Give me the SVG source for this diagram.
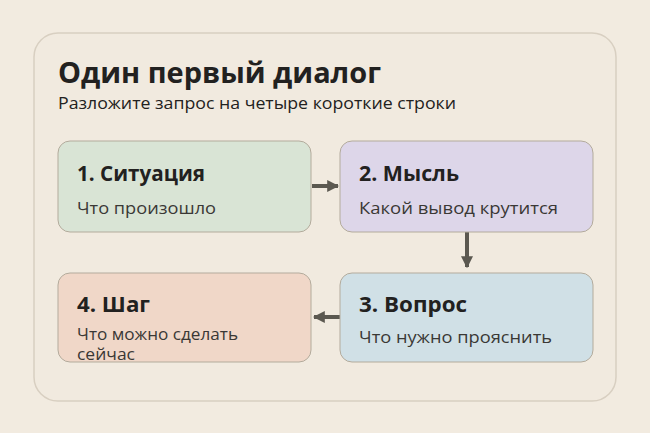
<svg xmlns="http://www.w3.org/2000/svg" width="650" height="433" viewBox="0 0 650 433">
<style>
.t{font-family:"Open Sans","Noto Sans",sans-serif;fill:#222120}
.h{font-weight:700;font-size:20.5px}
.s{font-size:15.5px;fill:#3a3835}
.box{stroke:#b3ab9c;stroke-width:1}
.ar{stroke:#5b5850;stroke-width:4;fill:none}
</style>
<defs>
<marker id="ah" viewBox="0 0 10 10" refX="9" refY="5" markerWidth="3" markerHeight="3" orient="auto" markerUnits="strokeWidth">
<path d="M0,0 L10,5 L0,10 z" fill="#5b5850"/>
</marker>
</defs>
<rect width="650" height="433" fill="#f2ebe0"/>
<rect x="34" y="33" width="582" height="368" rx="24" fill="#f1eadf" stroke="#d8cfc1" stroke-width="1.5"/>
<text class="t" x="58" y="83" font-size="29" font-weight="700" textLength="323" lengthAdjust="spacingAndGlyphs">Один первый диалог</text>
<text class="t" x="58" y="109" font-size="16" font-weight="500" textLength="398" lengthAdjust="spacingAndGlyphs">Разложите запрос на четыре короткие строки</text>
<g id="connectors">
<line class="ar" x1="312" y1="186" x2="338" y2="186" marker-end="url(#ah)"/>
<line class="ar" x1="467" y1="232" x2="467" y2="267" marker-end="url(#ah)"/>
<line class="ar" x1="340" y1="317" x2="314" y2="317" marker-end="url(#ah)"/>
</g>
<g id="n1">
<rect class="box" x="58" y="141" width="253" height="91" rx="12" fill="#d9e4d5"/>
<text class="t h" x="77" y="181" textLength="128" lengthAdjust="spacingAndGlyphs">1. Ситуация</text>
<text class="t s" x="77" y="214" textLength="139" lengthAdjust="spacingAndGlyphs">Что произошло</text>
</g>
<g id="n2">
<rect class="box" x="340" y="141" width="253" height="91" rx="12" fill="#ddd6e9"/>
<text class="t h" x="359" y="181" textLength="100" lengthAdjust="spacingAndGlyphs">2. Мысль</text>
<text class="t s" x="359" y="214" textLength="199" lengthAdjust="spacingAndGlyphs">Какой вывод крутится</text>
</g>
<g id="n3">
<rect class="box" x="340" y="273" width="253" height="89" rx="12" fill="#d0e0e6"/>
<text class="t h" x="359" y="312" textLength="108" lengthAdjust="spacingAndGlyphs">3. Вопрос</text>
<text class="t s" x="359" y="343" textLength="193" lengthAdjust="spacingAndGlyphs">Что нужно прояснить</text>
</g>
<g id="n4">
<rect class="box" x="58" y="273" width="253" height="89" rx="12" fill="#f0d7c8"/>
<text class="t h" x="77" y="312" textLength="73" lengthAdjust="spacingAndGlyphs">4. Шаг</text>
<text class="t s" x="77" y="340" font-size="15" textLength="161" lengthAdjust="spacingAndGlyphs">Что можно сделать</text>
<text class="t s" x="77" y="360" font-size="15" textLength="58" lengthAdjust="spacingAndGlyphs">сейчас</text>
</g>
</svg>
